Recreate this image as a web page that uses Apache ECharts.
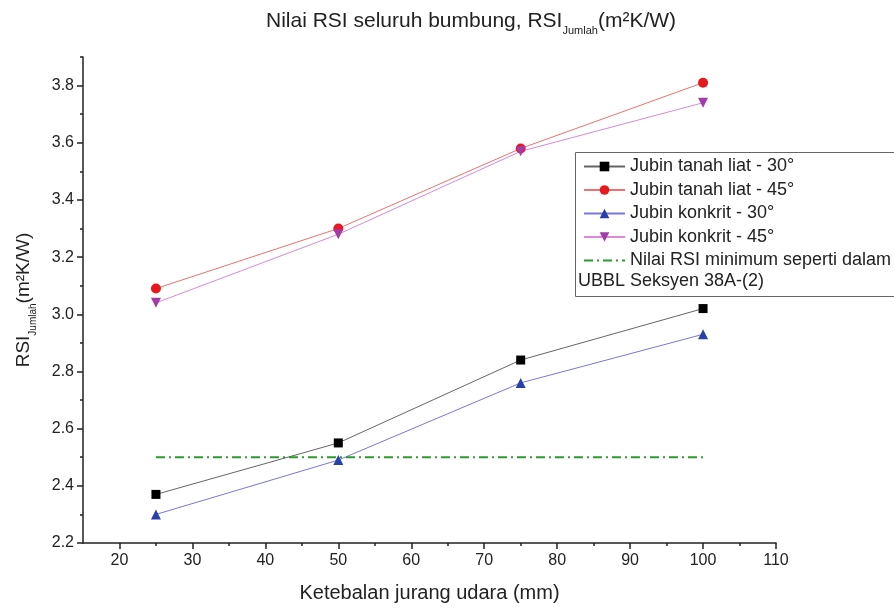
<!DOCTYPE html>
<html>
<head>
<meta charset="utf-8">
<script src="https://cdn.jsdelivr.net/npm/echarts@6/dist/echarts.min.js"></script>
<style>html,body{margin:0;padding:0;background:#fff}#c{width:894px;height:608px}</style>
</head>
<body>
<div id="c"></div>
<script>
// ---- data ----
var thickness = [25, 50, 75, 100];
var clay30 = [2.37, 2.55, 2.84, 3.02];
var clay45 = [3.09, 3.30, 3.58, 3.81];
var concrete30 = [2.30, 2.49, 2.76, 2.93];
var concrete45 = [3.04, 3.28, 3.57, 3.74];
var minX = [25, 100];
var minRSI = [2.5, 2.5];
var xTicks = [20, 30, 40, 50, 60, 70, 80, 90, 100, 110];
var xMinorTicks = [25, 35, 45, 55, 65, 75, 85, 95, 105];
var yTicks = [2.2, 2.4, 2.6, 2.8, 3.0, 3.2, 3.4, 3.6, 3.8];
var yMinorTicks = [2.3, 2.5, 2.7, 2.9, 3.1, 3.3, 3.5, 3.7, 3.9];
var names = ['Jubin tanah liat - 30°', 'Jubin tanah liat - 45°', 'Jubin konkrit - 30°', 'Jubin konkrit - 45°', 'Nilai RSI minimum seperti dalam'];
var noteText = 'UBBL Seksyen 38A-(2)';

var FONT = 'Liberation Sans, Arial, sans-serif';
function pairs(xs, ys) { return xs.map(function (x, i) { return [x, ys[i]]; }); }

var chart = echarts.init(document.getElementById('c'), null, { renderer: 'canvas' });
var axisCol = '#222';
var grid = { left: 83, right: 118, top: 57, bottom: 65 };

var option = {
  animation: false,
  backgroundColor: '#fff',
  grid: grid,
  xAxis: [{
    type: 'value', min: 15, max: 110,
    axisLine: { show: true, lineStyle: { color: axisCol, width: 1.5 } },
    axisTick: { show: true, customValues: xTicks, length: 6, lineStyle: { color: axisCol, width: 1.5 } },
    axisLabel: { customValues: xTicks, color: '#222', fontSize: 16, fontFamily: FONT, margin: 10 },
    splitLine: { show: false },
    name: 'Ketebalan jurang udara (mm)', nameLocation: 'middle', nameGap: 40,
    nameTextStyle: { fontSize: 20, color: '#222', fontFamily: FONT }
  }, {
    type: 'value', min: 15, max: 110, position: 'bottom',
    axisLine: { show: false },
    axisTick: { show: true, customValues: xMinorTicks, length: 3, lineStyle: { color: axisCol, width: 1.5 } },
    axisLabel: { show: false }, splitLine: { show: false }
  }],
  yAxis: [{
    type: 'value', min: 2.2, max: 3.9,
    axisLine: { show: true, lineStyle: { color: axisCol, width: 1.5 } },
    axisTick: { show: true, customValues: yTicks, length: 6, lineStyle: { color: axisCol, width: 1.5 } },
    axisLabel: { customValues: yTicks, color: '#222', fontSize: 16, fontFamily: FONT, margin: 9,
      formatter: function (v) { return v.toFixed(1); } },
    splitLine: { show: false },
    name: 'RSI{sub|Jumlah}(m²K/W)', nameLocation: 'middle', nameRotate: 90, nameGap: 45,
    nameTextStyle: { fontSize: 19, color: '#222', fontFamily: FONT, lineHeight: 21,
      rich: { sub: { fontSize: 10, color: '#222', fontFamily: FONT, verticalAlign: 'bottom', lineHeight: 28 } } }
  }, {
    type: 'value', min: 2.2, max: 3.9, position: 'left',
    axisLine: { show: false },
    axisTick: { show: true, customValues: yMinorTicks, length: 3, lineStyle: { color: axisCol, width: 1.5 } },
    axisLabel: { show: false }, splitLine: { show: false }
  }],
  legend: {
    orient: 'vertical', left: 578, top: 152,
    itemWidth: 41, itemHeight: 12, itemGap: 4.5,
    textStyle: { fontSize: 18, color: '#222', fontFamily: FONT, lineHeight: 19 },
    data: [names[0], names[1], names[2], names[3], { name: names[4], itemStyle: { opacity: 0 } }]
  },
  graphic: [
    { type: 'rect', left: 575, top: 152, shape: { width: 340, height: 144 },
      style: { fill: 'rgba(0,0,0,0)', stroke: '#666', lineWidth: 1 }, z: 0 },
    { type: 'text', left: 578, top: 272, style: { text: noteText, fontSize: 18, fill: '#222', fontFamily: FONT } },
    { type: 'text', x: 471, y: 21,
      style: { text: 'Nilai RSI seluruh bumbung, RSI{sub|Jumlah}(m²K/W)', align: 'center', verticalAlign: 'middle',
        fontSize: 21, fill: '#222', fontFamily: FONT, lineHeight: 23,
        rich: { sub: { fontSize: 11, fill: '#222', fontFamily: FONT, verticalAlign: 'bottom', lineHeight: 31 } } } }
  ],
  series: [
    { name: names[0], type: 'line', data: pairs(thickness, clay30), symbol: 'rect', symbolSize: 9,
      lineStyle: { color: '#666', width: 1 }, itemStyle: { color: '#000' } },
    { name: names[1], type: 'line', data: pairs(thickness, clay45), symbol: 'circle', symbolSize: 10,
      lineStyle: { color: '#f07070', width: 1 }, itemStyle: { color: '#e8191e' } },
    { name: names[2], type: 'line', data: pairs(thickness, concrete30), symbol: 'triangle', symbolSize: 10,
      lineStyle: { color: '#7777dd', width: 1 }, itemStyle: { color: '#2b3fa8' } },
    { name: names[3], type: 'line', data: pairs(thickness, concrete45), symbol: 'triangle', symbolRotate: 180, symbolSize: 10,
      lineStyle: { color: '#d889d8', width: 1 }, itemStyle: { color: '#a33aa8' } },
    { name: names[4], type: 'line', data: pairs(minX, minRSI), symbol: 'none',
      lineStyle: { color: '#2e9a2e', width: 2, type: [9, 4, 2, 4] }, itemStyle: { color: '#2e9a2e' } }
  ]
};
chart.setOption(option);
</script>
</body>
</html>
